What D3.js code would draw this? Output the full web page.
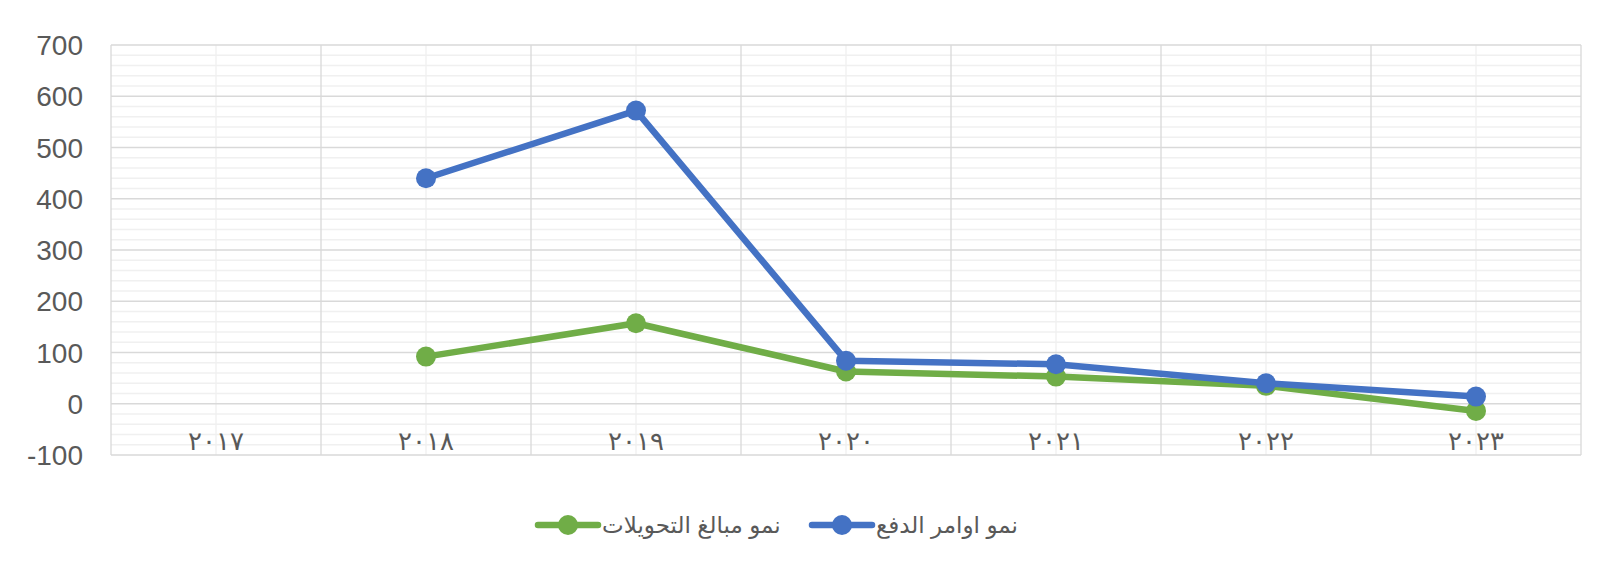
<!DOCTYPE html>
<html>
<head>
<meta charset="utf-8">
<script src="https://cdn.jsdelivr.net/npm/d3@7"></script>
<style>
  body { margin: 0; background: #fff; }
  svg { display: block; }
  text { font-family: "Liberation Sans", Arial, "DejaVu Sans", sans-serif; }
</style>
</head>
<body>
<div id="chart"></div>
<script>
// chart data
var categories = ["٢٠١٧", "٢٠١٨", "٢٠١٩", "٢٠٢٠", "٢٠٢١", "٢٠٢٢", "٢٠٢٣"];
var paymentOrders = [null, 440, 572, 84, 77, 40, 14];   // نمو اوامر الدفع
var transferAmounts = [null, 92, 157, 63, 53, 35, -14]; // نمو مبالغ التحويلات
var yTicks = [-100, 0, 100, 200, 300, 400, 500, 600, 700];
var seriesNames = ["نمو مبالغ التحويلات", "نمو اوامر الدفع"];

var svgWidth = 1607;
var svgHeight = 572;

var plot = { left: 111, right: 1581, top: 45, bottom: 455 };

var svg = d3.select("#chart")
  .append("svg")
  .attr("width", svgWidth)
  .attr("height", svgHeight);

var xScale = d3.scaleBand()
  .domain(categories)
  .range([plot.left, plot.right]);

var yScale = d3.scaleLinear()
  .domain([-100, 700])
  .range([plot.bottom, plot.top]);

// minor horizontal grid (every 20)
var minorY = d3.range(-100, 701, 20).filter(v => v % 100 !== 0);
svg.append("g").selectAll("line")
  .data(minorY)
  .enter()
  .append("line")
  .attr("x1", plot.left).attr("x2", plot.right)
  .attr("y1", d => yScale(d)).attr("y2", d => yScale(d))
  .attr("stroke", "#f0f0f0")
  .attr("stroke-width", 1.3);

// minor vertical grid at category centers
svg.append("g").selectAll("line")
  .data(categories)
  .enter()
  .append("line")
  .attr("x1", d => xScale(d) + xScale.bandwidth() / 2)
  .attr("x2", d => xScale(d) + xScale.bandwidth() / 2)
  .attr("y1", plot.top).attr("y2", plot.bottom)
  .attr("stroke", "#f0f0f0")
  .attr("stroke-width", 1.3);

// major horizontal grid
svg.append("g").selectAll("line")
  .data(yTicks)
  .enter()
  .append("line")
  .attr("x1", plot.left).attr("x2", plot.right)
  .attr("y1", d => yScale(d)).attr("y2", d => yScale(d))
  .attr("stroke", "#d9d9d9")
  .attr("stroke-width", 1.3);

// major vertical grid at category boundaries
svg.append("g").selectAll("line")
  .data(categories.concat(["end"]))
  .enter()
  .append("line")
  .attr("x1", (d, i) => plot.left + i * xScale.bandwidth())
  .attr("x2", (d, i) => plot.left + i * xScale.bandwidth())
  .attr("y1", plot.top).attr("y2", plot.bottom)
  .attr("stroke", "#d9d9d9")
  .attr("stroke-width", 1.3);

// y axis labels
svg.append("g").selectAll("text")
  .data(yTicks)
  .enter()
  .append("text")
  .attr("x", 83)
  .attr("y", d => yScale(d) + 10)
  .attr("text-anchor", "end")
  .attr("font-size", "28px")
  .attr("fill", "#595959")
  .text(d => d);

// x axis labels (inside bottom of plot)
svg.append("g").selectAll("text")
  .data(categories)
  .enter()
  .append("text")
  .attr("x", d => xScale(d) + xScale.bandwidth() / 2)
  .attr("y", 450)
  .attr("text-anchor", "middle")
  .attr("font-size", "26px")
  .attr("letter-spacing", "2px")
  .attr("fill", "#595959")
  .text(d => d);

var line = d3.line()
  .defined(d => d.v !== null)
  .x(d => xScale(d.c) + xScale.bandwidth() / 2)
  .y(d => yScale(d.v));

function drawSeries(values, color) {
  var pts = categories.map((c, i) => ({ c: c, v: values[i] }));
  svg.append("path")
    .datum(pts)
    .attr("fill", "none")
    .attr("stroke", color)
    .attr("stroke-width", 6.5)
    .attr("stroke-linejoin", "round")
    .attr("stroke-linecap", "round")
    .attr("d", line);
  svg.append("g").selectAll("circle")
    .data(pts.filter(d => d.v !== null))
    .enter()
    .append("circle")
    .attr("cx", d => xScale(d.c) + xScale.bandwidth() / 2)
    .attr("cy", d => yScale(d.v))
    .attr("r", 10)
    .attr("fill", color);
}

drawSeries(transferAmounts, "#70ad47");
drawSeries(paymentOrders, "#4472c4");

// legend
var legendItems = [
  { name: seriesNames[0], color: "#70ad47", x: 538 },
  { name: seriesNames[1], color: "#4472c4", x: 812 }
];
var legend = svg.append("g");
legendItems.forEach(function(item) {
  legend.append("line")
    .attr("x1", item.x).attr("x2", item.x + 60)
    .attr("y1", 525).attr("y2", 525)
    .attr("stroke", item.color)
    .attr("stroke-width", 6.5)
    .attr("stroke-linecap", "round");
  legend.append("circle")
    .attr("cx", item.x + 30)
    .attr("cy", 525)
    .attr("r", 10)
    .attr("fill", item.color);
  legend.append("text")
    .attr("x", item.x + 64)
    .attr("y", 533)
    .attr("text-anchor", "start")
    .attr("font-size", "23px")
    .attr("fill", "#595959")
    .text(item.name);
});
</script>
</body>
</html>
